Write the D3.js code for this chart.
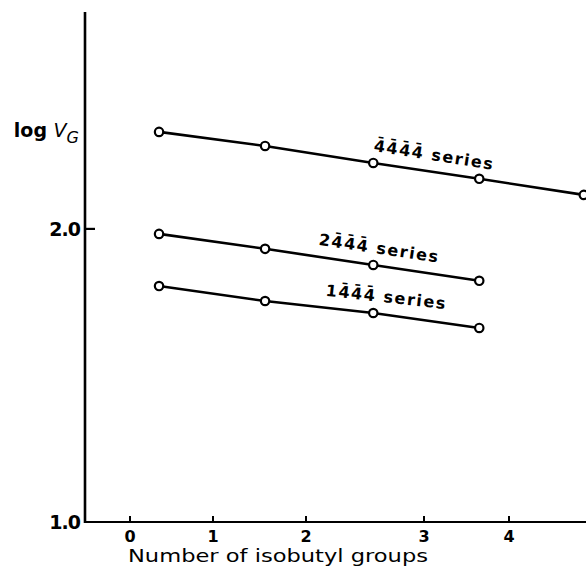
<!DOCTYPE html>
<html>
<head>
<meta charset="utf-8">
<script src="https://cdn.jsdelivr.net/npm/d3@7"></script>
<style>
  html, body { margin: 0; padding: 0; background: #fff; }
  svg { display: block; font-family: "DejaVu Sans", sans-serif; }
</style>
</head>
<body>
<svg id="chart" width="586" height="569"></svg>
<script>
// Tick labels along the x axis (number of isobutyl groups)
const xTicks = [0, 1, 2, 3, 4];
// Position of each plotted compound along the x axis
const pointX = [0.35, 1.56, 2.57, 3.65, 4.88];
// log V_G for each series
const seriesNames = ["4\u03044\u03044\u03044\u0304 series", "24\u03044\u03044\u0304 series", "14\u03044\u03044\u0304 series"];
const series4444 = [2.331, 2.283, 2.225, 2.171, 2.116];
const series2444 = [1.983, 1.932, 1.877, 1.823];
const series1444 = [1.805, 1.754, 1.713, 1.662];
const yTicks = [1.0, 2.0];

const svg = d3.select("#chart");

// The x axis is drawn with unevenly spaced tick marks, so the scale is piecewise linear
const x = d3.scaleLinear().domain(xTicks).range([130, 213, 306, 424, 509]);
const y = d3.scaleLinear().domain([1.0, 2.74]).range([522, 12]);

const axisLeft = 85, axisRight = 586;

// Axis lines
svg.append("line")
  .attr("x1", axisLeft).attr("x2", axisLeft)
  .attr("y1", y(2.74)).attr("y2", y(1.0) + 1)
  .attr("stroke", "#000").attr("stroke-width", 2.6);
svg.append("line")
  .attr("x1", axisLeft).attr("x2", axisRight)
  .attr("y1", y(1.0)).attr("y2", y(1.0))
  .attr("stroke", "#000").attr("stroke-width", 2.2);

// x ticks point up into the plot, labels sit below the axis
const xg = svg.append("g");
xg.selectAll("line").data(xTicks).join("line")
  .attr("x1", d => x(d)).attr("x2", d => x(d))
  .attr("y1", y(1.0)).attr("y2", y(1.0) - 6)
  .attr("stroke", "#000").attr("stroke-width", 2);
xg.selectAll("text").data(xTicks).join("text")
  .attr("x", d => x(d)).attr("y", y(1.0) + 20)
  .attr("text-anchor", "middle")
  .attr("font-size", 16).attr("font-weight", "bold")
  .text(d => d);

svg.append("text")
  .attr("x", 278).attr("y", 562)
  .attr("text-anchor", "middle")
  .attr("font-size", 17)
  .attr("textLength", 300).attr("lengthAdjust", "spacingAndGlyphs")
  .text("Number of isobutyl groups");

// y ticks point into the plot
const yg = svg.append("g");
yg.selectAll("line").data(yTicks.filter(d => d > 1)).join("line")
  .attr("x1", axisLeft).attr("x2", axisLeft + 10)
  .attr("y1", d => y(d)).attr("y2", d => y(d))
  .attr("stroke", "#000").attr("stroke-width", 2.2);
yg.selectAll("text").data(yTicks).join("text")
  .attr("x", axisLeft - 5).attr("y", d => y(d) + 7)
  .attr("text-anchor", "end")
  .attr("font-size", 19).attr("font-weight", "bold")
  .attr("letter-spacing", -1)
  .text(d => d.toFixed(1));

// y axis title: log V_G
const yt = svg.append("text")
  .attr("x", 79).attr("y", 137)
  .attr("text-anchor", "end")
  .attr("font-size", 19).attr("font-weight", "bold");
yt.append("tspan").text("log ");
yt.append("tspan").attr("font-style", "italic").attr("font-weight", "normal").text("V");
yt.append("tspan").attr("font-style", "italic").attr("font-weight", "normal")
  .attr("font-size", 16).attr("dy", 6).text("G");

// Series lines, points and labels
const allSeries = [series4444, series2444, series1444];
const labelStart = [0, -55, -48]; // horizontal shift of each label from the third point

const line = d3.line().x((d, i) => x(pointX[i])).y(d => y(d));

allSeries.forEach((vals, k) => {
  const g = svg.append("g");
  g.append("path").datum(vals)
    .attr("d", line)
    .attr("fill", "none").attr("stroke", "#000").attr("stroke-width", 2.6);
  g.selectAll("circle").data(vals).join("circle")
    .attr("cx", (d, i) => x(pointX[i])).attr("cy", d => y(d))
    .attr("r", 4.2)
    .attr("fill", "#fff").attr("stroke", "#000").attr("stroke-width", 2.2);

  // label follows the slope of its line
  const x0 = x(pointX[1]), y0 = y(vals[1]);
  const x1 = x(pointX[2]), y1 = y(vals[2]);
  const angle = Math.atan2(y1 - y0, x1 - x0) * 180 / Math.PI;
  const lx = x1 + labelStart[k];
  const ly = y0 + (y1 - y0) * (lx - x0) / (x1 - x0) - 12;
  g.append("text")
    .attr("transform", `translate(${lx},${ly}) rotate(${angle})`)
    .attr("font-size", 16).attr("font-weight", "bold")
    .attr("letter-spacing", 1.6)
    .text(seriesNames[k]);
});
</script>
</body>
</html>
